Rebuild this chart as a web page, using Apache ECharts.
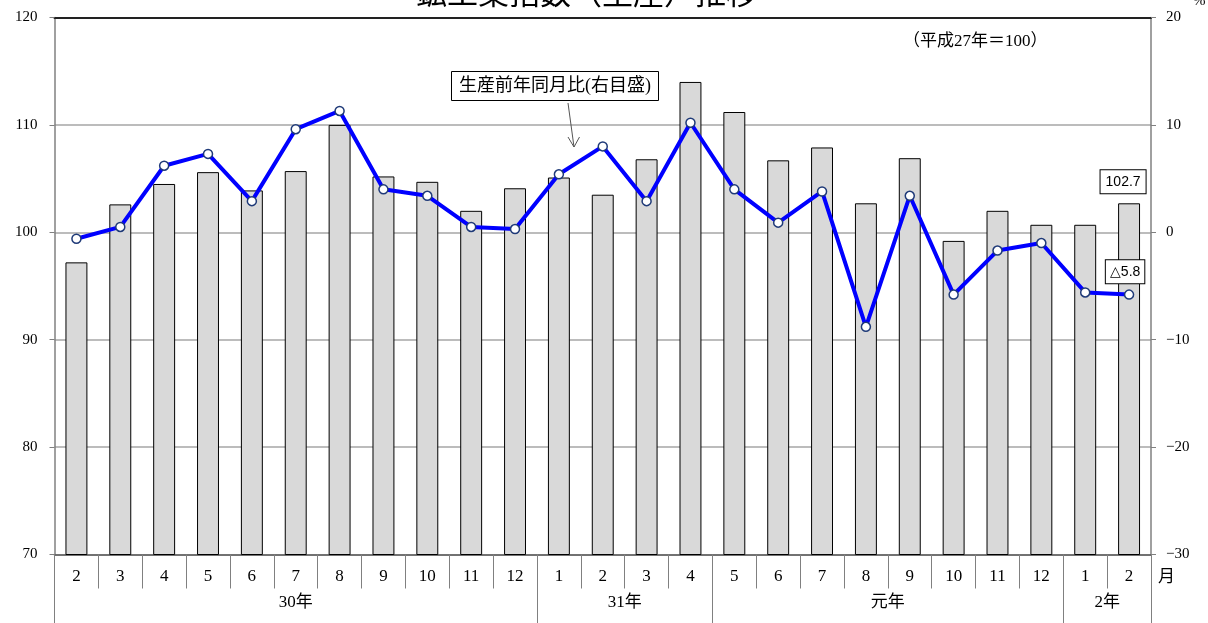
<!DOCTYPE html>
<html>
<head>
<meta charset="utf-8">
<script src="https://cdn.jsdelivr.net/npm/echarts@6/dist/echarts.min.js"></script>
<style>html,body{margin:0;padding:0;background:#fff;}#c{width:1208px;height:623px;}</style>
</head>
<body>
<div id="c"></div>
<script>
// month categories
const months = ['2','3','4','5','6','7','8','9','10','11','12','1','2','3','4','5','6','7','8','9','10','11','12','1','2'];
// year groups and number of months in each
const yearNames = ['30年','31年','元年','2年'];
const yearSpans = [11, 4, 8, 2];
// production index (left axis)
const productionIndex = [97.2,102.6,104.5,105.6,103.9,105.7,110.0,105.2,104.7,102.0,104.1,105.1,103.5,106.8,114.0,111.2,106.7,107.9,102.7,106.9,99.2,102.0,100.7,100.7,102.7];
// year-on-year change % (right axis)
const yoyChange = [-0.6,0.5,6.2,7.3,2.9,9.6,11.3,4.0,3.4,0.5,0.3,5.4,8.0,2.9,10.2,4.0,0.9,3.8,-8.8,3.4,-5.8,-1.7,-1.0,-5.6,-5.8];
// tick labels
const leftTicks = [70,80,90,100,110,120];
const rightTicks = [-30,-20,-10,0,10,20];

const SERIF = '"Liberation Serif","Noto Sans CJK JP",serif';
const GRAY = '#808080';
const n = months.length;
const last = n - 1;

// half-month positions for the year row
const halfPos = [];
for (let k = 0; k <= 2 * n; k++) halfPos.push(String(k));
const yearBoundaries = new Set([0]);
const yearCenters = {};
let acc = 0;
yearSpans.forEach((s, i) => {
  yearCenters[2 * acc + s] = yearNames[i];
  acc += s;
  yearBoundaries.add(2 * acc);
});

const fmtSigned = v => (v < 0 ? '△' + Math.abs(v) : String(v));
const LABEL_FONT = '"Liberation Sans Narrow","Liberation Sans",sans-serif';

const barData = productionIndex.map((v, i) => i === last ? {
  value: v,
  label: {
    show: true, position: 'top', distance: 10,
    formatter: p => p.value.toFixed(1),
    fontFamily: LABEL_FONT, fontSize: 14, color: '#000',
    backgroundColor: '#fff', borderColor: '#000', borderWidth: 1, padding: [5, 5, 4, 5], offset: [-6, 0]
  }
} : v);

const lineData = yoyChange.map((v, i) => i === last ? {
  value: v,
  label: {
    show: true, position: 'top', distance: 6,
    formatter: p => fmtSigned(p.value),
    fontFamily: LABEL_FONT, fontSize: 14, color: '#000',
    backgroundColor: '#fff', borderColor: '#000', borderWidth: 1, padding: [5, 4, 4, 4], offset: [-4, 0]
  }
} : v);

const chart = echarts.init(document.getElementById('c'));
chart.setOption({
  animation: false,
  backgroundColor: '#fff',
  title: [
    { text: '鉱工業指数（生産）推移', left: 411, top: -25,
      textStyle: { fontFamily: SERIF, fontSize: 31, fontWeight: 'normal', color: '#000' } },
    { text: '（平成27年＝100）', left: 898, top: 28,
      textStyle: { fontFamily: SERIF, fontSize: 17, fontWeight: 'normal', color: '#000' } }
  ],
  grid: { left: 54.5, right: 57, top: 17.5, bottom: 68.5, containLabel: false, outerBoundsMode: 'none' },
  xAxis: [
    {
      type: 'category', data: months, position: 'bottom',
      axisLine: { show: true, onZero: false, lineStyle: { color: '#595959', width: 1.5 } },
      axisTick: { show: true, interval: 0, length: 34, lineStyle: { color: GRAY, width: 1 } },
      axisLabel: { interval: 0, margin: 14, fontFamily: SERIF, fontSize: 17, color: '#000' },
      splitLine: { show: false }
    },
    {
      type: 'category', data: halfPos, position: 'bottom', boundaryGap: false,
      axisLine: { show: false, onZero: false },
      axisTick: { show: true, length: 69, interval: (i) => yearBoundaries.has(i), lineStyle: { color: GRAY, width: 1 } },
      axisLabel: { interval: (i) => yearCenters[i] !== undefined, formatter: (v) => yearCenters[+v] || '',
        margin: 40, fontFamily: SERIF, fontSize: 17, color: '#000' },
      splitLine: { show: false }
    },
    {
      type: 'category', data: months, position: 'top',
      axisLine: { show: true, onZero: false, lineStyle: { color: '#222', width: 2 } },
      axisTick: { show: false }, axisLabel: { show: false }, splitLine: { show: false }
    }
  ],
  yAxis: [
    {
      type: 'value', position: 'left', min: leftTicks[0], max: leftTicks[leftTicks.length - 1], interval: 10,
      axisLine: { show: true, onZero: false, lineStyle: { color: GRAY, width: 1.5 } },
      axisTick: { show: true, length: 5, lineStyle: { color: GRAY } },
      axisLabel: { margin: 17, fontFamily: SERIF, fontSize: 15, color: '#000' },
      splitLine: { show: true, lineStyle: { color: '#a6a6a6', width: 1.5 } }
    },
    {
      type: 'value', position: 'right', min: rightTicks[0], max: rightTicks[rightTicks.length - 1], interval: 10,
      axisLine: { show: true, onZero: false, lineStyle: { color: GRAY, width: 1.5 } },
      axisTick: { show: true, length: 5, lineStyle: { color: GRAY } },
      axisLabel: { margin: 15, fontFamily: SERIF, fontSize: 15, color: '#000',
        formatter: v => (v < 0 ? '−' + Math.abs(v) : String(v)) },
      splitLine: { show: false }
    }
  ],
  series: [
    {
      type: 'bar', name: '生産指数', data: barData, xAxisIndex: 0, yAxisIndex: 0,
      barWidth: '50%',
      itemStyle: { color: '#d9d9d9', borderColor: '#000', borderWidth: 1 }
    },
    {
      type: 'line', name: '生産前年同月比', data: lineData, xAxisIndex: 0, yAxisIndex: 1,
      symbol: 'circle', symbolSize: 9, showAllSymbol: true,
      lineStyle: { color: '#0000ff', width: 4 },
      itemStyle: { color: '#fff', borderColor: '#1f3a78', borderWidth: 1.5 },
      z: 5
    }
  ],
  graphic: [
    { type: 'text', left: 1158, top: 569, style: { text: '月', font: '17px ' + SERIF, fill: '#000' } },
    { type: 'text', left: 1193, top: -6, style: { text: '%', font: '15px ' + SERIF, fill: '#000' } },
    { type: 'rect', shape: { x: 451.5, y: 71.5, width: 207, height: 29 },
      style: { fill: '#fff', stroke: '#000', lineWidth: 1 }, z: 10 },
    { type: 'text', x: 555, y: 86.5, style: { text: '生産前年同月比(右目盛)', font: '18px ' + SERIF, fill: '#000',
      align: 'center', verticalAlign: 'middle' }, z: 11 },
    { type: 'polyline', shape: { points: [[568, 103], [574, 147]] }, style: { stroke: '#555', lineWidth: 1 }, z: 10 },
    { type: 'polyline', shape: { points: [[568, 137], [574, 147], [579.5, 137]] }, style: { stroke: '#555', lineWidth: 1, fill: null }, z: 10 }
  ]
});
</script>
</body>
</html>
